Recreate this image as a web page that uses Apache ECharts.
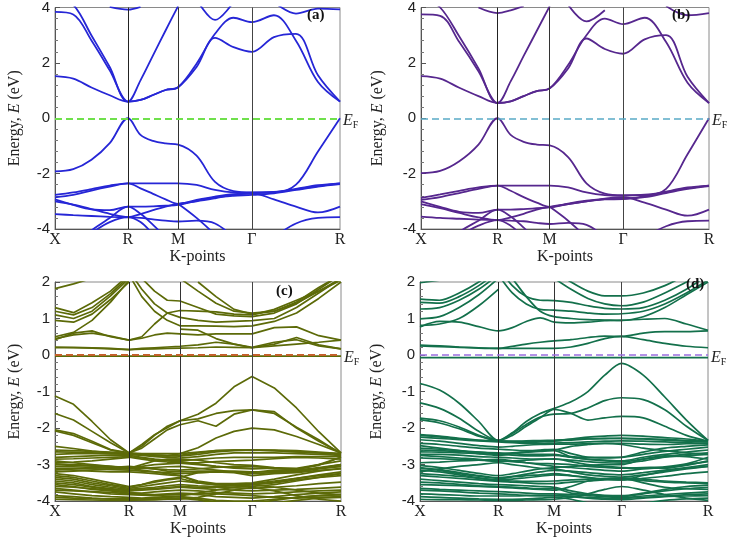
<!DOCTYPE html>
<html><head><meta charset="utf-8">
<script src="https://cdn.jsdelivr.net/npm/echarts@6/dist/echarts.min.js"></script>
<style>html,body{margin:0;padding:0;background:#fff}#c{width:729px;height:538px}</style>
</head><body><div id="c"></div>
<script>
const _ = null;
const kLabels = ['X','R','M','Γ','R'];
const ticksA = [0, 0.256, 0.432, 0.691, 1];
const ticksB = [0, 0.266, 0.447, 0.702, 1];
const ticksC = [0, 0.259, 0.437, 0.689, 1];
const ticksD = [0, 0.272, 0.466, 0.700, 1];

// Panel (a)
const condA = [
 [1.52,1.43,1.11,0.83,0.6, 0.66,0.84,1.02,1.12, 1.85,2.9,2.57,2.4, 2.93,3.05,1.55,0.6],
 [4.4,4.1,2.99,1.85,0.6, 0.66,0.84,1.02,1.12, 1.97,3.05,3.63,3.47, 3.72,2.8,1.31,0.6],
 [3.84,3.75,2.81,1.73,0.6, 1.37,2.27,3.17,4.05, _,_,_,_, _,_,_,_],
 [_,_,_,4.02,3.92, 4.02,_,_,_, _,_,_,_, _,_,_,_],
 [_,_,_,_,_, _,_,_,_, 4.3,3.55,4.2,_, _,_,_,_],
 [_,_,_,_,_, _,_,_,_, _,_,_,_, 4.2,3.78,3.96,3.93]
];
const valA = [
 [-1.92,-1.84,-1.5,-0.9,0, -0.6,-0.82,-0.91,-0.95, -1.35,-2.3,-2.63,-2.68, -2.68,-2.4,-1.2,0],
 [-2.77,-2.68,-2.56,-2.43,-2.35, -2.35,-2.35,-2.35,-2.35, -2.41,-2.59,-2.68,-2.69, -2.66,-2.57,-2.45,-2.35],
 [-2.86,-2.77,-2.61,-2.47,-2.35, -2.53,-2.73,-2.93,-3.09, -2.95,-2.83,-2.74,-2.71, -2.93,-3.19,-3.4,-3.19],
 [-2.93,-3.13,-3.29,-3.32,-3.19, -3.19,-3.18,-3.16,-3.13, -2.98,-2.86,-2.8,-2.77, -2.71,-2.59,-2.47,-2.38],
 [-3.0,-3.12,-3.28,-3.45,-3.57, -3.46,-3.32,-3.19,-3.09, -3.0,-2.89,-2.77,-2.71, -2.67,-2.55,-2.42,-2.35],
 [-3.46,-3.5,-3.53,-3.56,-3.58, -3.6,-3.65,-3.7,-3.73, -3.7,-3.8,-4.3,_, _,_,_,_],
 [_,-4.5,-4.05,-3.6,-3.19, -3.45,-3.85,-4.3,_, _,_,_,_, _,_,_,_],
 [_,_,-4.15,-3.75,-3.57, -3.75,-4.2,_,_, _,_,_,_, _,_,_,_],
 [_,_,_,_,_, _,_,_,-3.09, -3.6,-4.2,_,_, _,_,_,_],
 [_,_,_,_,_, _,_,_,_, _,_,_,_, -4.3,-3.8,-3.6,-3.57]
];

// Panel (b)
const condB = [
 [1.52,1.43,1.1,0.8,0.55, 0.61,0.8,0.98,1.08, 1.8,2.88,2.5,2.33, 2.85,3.0,1.5,0.55],
 [4.4,4.0,2.95,1.8,0.55, 0.61,0.8,0.98,1.08, 1.92,3.0,3.6,3.4, 3.63,2.75,1.28,0.55],
 [3.75,3.7,2.75,1.7,0.55, 1.33,2.25,3.15,4.05, _,_,_,_, _,_,_,_],
 [_,_,_,4.0,3.8, 3.9,4.05,_,_, _,_,_,_, _,_,_,_],
 [_,_,_,_,_, _,_,_,_, 4.1,3.5,3.9,_, _,_,_,_],
 [_,_,_,_,_, _,_,_,_, _,_,_,_, _,4.05,3.72,3.8]
];
const valB = [
 [-1.98,-1.9,-1.55,-0.95,0, -0.6,-0.85,-0.95,-0.98, -1.4,-2.35,-2.72,-2.78, -2.78,-2.55,-1.3,0],
 [-2.88,-2.75,-2.62,-2.5,-2.43, -2.43,-2.43,-2.43,-2.43, -2.5,-2.68,-2.78,-2.8, -2.76,-2.66,-2.53,-2.43],
 [-2.95,-2.85,-2.7,-2.55,-2.43, -2.62,-2.85,-3.05,-3.2, -3.08,-2.98,-2.9,-2.85, -3.05,-3.3,-3.52,-3.3],
 [-3.0,-3.2,-3.38,-3.42,-3.3, -3.3,-3.28,-3.25,-3.22, -3.1,-3.0,-2.93,-2.92, -2.85,-2.7,-2.55,-2.45],
 [-3.1,-3.25,-3.42,-3.58,-3.68, -3.58,-3.45,-3.3,-3.2, -3.1,-3.0,-2.92,-2.9, -2.82,-2.65,-2.5,-2.43],
 [-3.55,-3.6,-3.63,-3.66,-3.68, -3.7,-3.72,-3.78,-3.82, -3.78,-3.85,-4.3,_, _,_,_,_],
 [_,-4.6,-4.1,-3.7,-3.3, -3.55,-3.95,-4.4,_, _,_,_,_, _,_,_,_],
 [_,_,-4.25,-3.88,-3.68, -3.88,-4.3,_,_, _,_,_,_, _,_,_,_],
 [_,_,_,_,_, _,_,_,-3.2, -3.7,-4.3,_,_, _,_,_,_],
 [_,_,_,_,_, _,_,_,_, _,_,_,_, -4.3,-3.9,-3.72,-3.7]
];

// Panel (c)
const condC = [
 [-0.03,-0.03,-0.03,-0.03,-0.03, -0.03,-0.03,-0.03,-0.03, -0.03,-0.03,-0.03,-0.03, -0.03,-0.03,-0.03,-0.03],
 [0.2,0.2,0.19,0.17,0.15, 0.16,0.17,0.18,0.19, 0.2,0.22,0.21,0.2, 0.3,0.48,0.28,0.17],
 [0.22,0.21,0.2,0.18,0.15, 0.18,0.2,0.22,0.24, 0.28,0.35,0.3,0.21, 0.35,0.42,0.25,0.17],
 [0.42,0.6,0.66,0.5,0.41, 0.5,0.85,1.15,1.22, 1.2,1.18,1.12,1.1, 1.25,1.5,1.75,2.05],
 [0.45,0.55,0.6,0.52,0.41, 0.46,0.55,0.6,0.58, 0.55,0.58,0.58,0.58, 0.75,0.77,0.53,0.41],
 [0.5,0.62,0.95,1.45,2.05, _,_,_,_, _,_,_,_, _,_,_,_],
 [0.95,0.9,1.12,1.52,2.0, _,_,_,_, _,_,_,_, _,_,_,_],
 [1.1,1.0,1.2,1.62,2.1, _,_,_,_, _,_,_,_, _,_,_,_],
 [1.2,1.1,1.3,1.68,2.15, _,_,_,_, _,_,_,_, _,_,_,_],
 [1.3,1.16,1.43,1.75,2.2, _,_,_,_, _,_,_,_, _,_,_,_],
 [1.82,1.95,2.1,_,_, _,_,_,_, _,_,_,_, _,_,_,_],
 [_,_,_,_,2.2, 1.6,1.2,0.95,0.8, 0.8,0.79,0.78,0.8, 0.92,1.15,1.55,2.0],
 [_,_,_,_,2.3, 1.8,1.4,1.15,1.03, 0.95,0.9,0.92,0.94, 1.0,1.3,1.7,2.1],
 [_,_,_,_,_, 2.1,1.75,1.5,1.48, 1.3,1.12,1.07,1.05, 1.15,1.4,1.8,2.2],
 [_,_,_,_,_, _,_,_,2.1, 1.75,1.42,1.2,1.15, 1.2,1.42,1.75,2.1],
 [_,_,_,_,_, _,_,_,_, 2.0,1.6,1.25,1.12, 1.2,1.45,1.85,2.2],
 [_,_,_,_,_, _,_,_,0.71, 0.68,0.45,0.3,0.2, 0.25,0.3,0.35,0.41]
];
const valC = [
 [-1.12,-1.35,-1.82,-2.32,-2.68, -2.45,-2.18,-1.99,-1.8, -1.62,-1.32,-0.87,-0.59, -0.9,-1.45,-2.1,-2.68],
 [-1.6,-1.78,-2.09,-2.4,-2.68, -2.5,-2.2,-1.95,-1.8, -1.75,-1.6,-1.52,-1.5, -1.55,-2.0,-2.36,-2.68],
 [-2.05,-2.15,-2.36,-2.59,-2.68, -2.55,-2.3,-2.05,-1.91, -1.8,-1.95,-1.62,-1.5, -1.6,-1.98,-2.32,-2.7],
 [-2.08,-2.2,-2.4,-2.6,-2.7, -2.72,-2.75,-2.76,-2.7, -2.54,-2.27,-2.09,-2.0, -2.05,-2.23,-2.45,-2.68],
 [-2.5,-2.56,-2.63,-2.68,-2.72, -2.73,-2.74,-2.75,-2.75, -2.68,-2.62,-2.6,-2.6, -2.62,-2.65,-2.68,-2.72]
];
const denseC = [
 [-2.65,-2.66,-2.68,-2.7,-2.7, -2.72,-2.74,-2.76,-2.77, -2.72,-2.65,-2.62,-2.6, -2.62,-2.65,-2.68,-2.7],
 [-2.72,-2.7,-2.7,-2.7,-2.72, -2.75,-2.78,-2.8,-2.82, -2.78,-2.72,-2.68,-2.67, -2.68,-2.7,-2.72,-2.75],
 [-2.8,-2.78,-2.76,-2.74,-2.75, -2.8,-2.85,-2.88,-2.9, -2.86,-2.82,-2.8,-2.8, -2.8,-2.78,-2.78,-2.78],
 [-2.95,-2.93,-2.9,-2.85,-2.8, -2.85,-2.9,-2.93,-2.95, -2.95,-2.92,-2.9,-2.88, -2.84,-2.8,-2.82,-2.85],
 [-3.0,-3.02,-3.04,-3.06,-3.08, -3.05,-3.0,-2.98,-2.96, -3.0,-3.05,-3.08,-3.1, -3.1,-3.1,-3.0,-2.9],
 [-3.05,-3.06,-3.08,-3.1,-3.12, -3.1,-3.08,-3.06,-3.05, -3.1,-3.15,-3.2,-3.22, -3.15,-3.16,-3.08,-3.0],
 [-3.1,-3.1,-3.12,-3.14,-3.15, -3.18,-3.2,-3.22,-3.25, -3.22,-3.2,-3.18,-3.2, -3.2,-3.2,-3.12,-3.05],
 [-3.2,-3.18,-3.15,-3.12,-3.1, -3.15,-3.2,-3.25,-3.3, -3.45,-3.52,-3.52,-3.5, -3.4,-3.28,-3.18,-3.1],
 [-3.3,-3.35,-3.45,-3.55,-3.62, -3.55,-3.45,-3.4,-3.35, -3.22,-3.2,-3.22,-3.3, -3.25,-3.22,-3.16,-3.12],
 [-3.35,-3.4,-3.5,-3.58,-3.65, -3.6,-3.55,-3.5,-3.45, -3.5,-3.55,-3.58,-3.55, -3.48,-3.38,-3.28,-3.2],
 [-3.4,-3.45,-3.55,-3.62,-3.68, -3.65,-3.62,-3.58,-3.55, -3.58,-3.6,-3.62,-3.6, -3.55,-3.45,-3.35,-3.25],
 [-3.45,-3.5,-3.6,-3.66,-3.72, -3.7,-3.68,-3.65,-3.62, -3.65,-3.68,-3.7,-3.72, -3.7,-3.68,-3.65,-3.62],
 [-3.55,-3.6,-3.68,-3.72,-3.78, -3.78,-3.75,-3.72,-3.7, -3.72,-3.76,-3.78,-3.8, -3.78,-3.75,-3.72,-3.7],
 [-3.65,-3.7,-3.75,-3.8,-3.82, -3.84,-3.85,-3.82,-3.8, -3.82,-3.88,-3.9,-3.92, -3.88,-3.82,-3.78,-3.75],
 [-3.75,-3.8,-3.85,-3.88,-3.9, -3.92,-3.9,-3.88,-3.88, -3.92,-3.98,-4.0,-4.0, -3.95,-3.9,-3.85,-3.82],
 [-3.85,-3.88,-3.92,-3.95,-3.96, -3.97,-3.96,-3.94,-3.92, -3.97,-4.05,-4.1,-4.1, -4.05,-3.98,-3.92,-3.9],
 [-3.95,-3.96,-3.97,-3.98,-3.98, -3.97,-3.96,-3.95,-3.95, -3.9,-3.8,-3.7,-3.62, -3.72,-3.85,-3.95,-4.0],
 [-2.9,-2.95,-3.0,-3.05,-3.1, -3.0,-2.9,-2.85,-2.85, -2.88,-2.95,-3.0,-3.02, -3.08,-3.12,-3.02,-2.8],
 [-3.15,-3.12,-3.1,-3.08,-3.05, -3.08,-3.12,-3.18,-3.2, -3.18,-3.18,-3.2,-3.25, -3.22,-3.18,-3.1,-3.0],
 [-2.6,-2.62,-2.64,-2.66,-2.68, -2.7,-2.7,-2.7,-2.7, -2.66,-2.62,-2.6,-2.6, -2.6,-2.62,-2.66,-2.7],
 [-2.85,-2.84,-2.82,-2.8,-2.78, -2.82,-2.86,-2.9,-2.92, -2.98,-3.05,-3.1,-3.12, -3.1,-3.14,-3.0,-2.8],
 [-2.98,-3.0,-3.02,-3.05,-3.08, -3.1,-3.12,-3.14,-3.15, -3.12,-3.08,-3.05,-3.05, -3.1,-3.15,-3.1,-3.05],
 [-3.12,-3.15,-3.18,-3.2,-3.2, -3.22,-3.25,-3.28,-3.3, -3.48,-3.55,-3.55,-3.52, -3.45,-3.38,-3.3,-3.25],
 [-3.25,-3.3,-3.4,-3.5,-3.6, -3.55,-3.48,-3.42,-3.38, -3.5,-3.55,-3.56,-3.55, -3.5,-3.42,-3.35,-3.3],
 [-3.5,-3.55,-3.62,-3.68,-3.7, -3.68,-3.66,-3.62,-3.6, -3.62,-3.62,-3.64,-3.65, -3.62,-3.58,-3.52,-3.48],
 [-3.6,-3.62,-3.66,-3.7,-3.75, -3.8,-3.82,-3.8,-3.78, -3.8,-3.8,-3.82,-3.85, -3.9,-3.92,-3.9,-3.88],
 [-3.7,-3.72,-3.74,-3.76,-3.8, -3.82,-3.84,-3.86,-3.86, -3.78,-3.7,-3.62,-3.55, -3.62,-3.7,-3.78,-3.82],
 [-3.9,-3.92,-3.93,-3.94,-3.94, -3.94,-3.93,-3.9,-3.88, -3.95,-4.02,-4.06,-4.06, -3.98,-3.9,-3.85,-3.82]
];

// Panel (d)
const condD = [
 [-0.07,-0.07,-0.07,-0.07,-0.07, -0.07,-0.07,-0.07,-0.07, -0.07,-0.07,-0.07,-0.07, -0.07,-0.07,-0.07,-0.07],
 [0.25,0.23,0.21,0.19,0.18, 0.18,0.18,0.18,0.18, 0.22,0.32,0.45,0.51, 0.42,0.32,0.24,0.2],
 [0.27,0.25,0.22,0.2,0.18, 0.24,0.3,0.35,0.39, 0.42,0.48,0.52,0.51, 0.6,0.64,0.64,0.66],
 [0.77,0.92,0.9,0.78,0.66, 0.75,0.92,1.02,0.9, 0.88,0.9,0.94,0.95, 0.98,1.0,0.85,0.68],
 [0.81,0.85,1.0,1.35,1.8, _,_,_,_, _,_,_,_, _,_,_,_],
 [0.99,1.05,1.3,1.65,2.1, _,_,_,_, _,_,_,_, _,_,_,_],
 [1.26,1.3,1.5,1.8,2.2, _,_,_,_, _,_,_,_, _,_,_,_],
 [1.44,1.42,1.6,1.9,2.3, _,_,_,_, _,_,_,_, _,_,_,_],
 [1.53,1.5,1.7,2.0,2.4, _,_,_,_, _,_,_,_, _,_,_,_],
 [1.98,2.05,_,_,_, _,_,_,_, _,_,_,_, _,_,_,_],
 [_,_,_,_,2.2, 1.7,1.4,1.25,1.23, 1.2,1.15,1.12,1.13, 1.2,1.4,1.7,2.05],
 [_,_,_,_,2.4, 1.9,1.6,1.5,1.49, 1.44,1.35,1.28,1.26, 1.3,1.5,1.8,2.2],
 [_,_,_,_,2.6, 2.1,1.6,1.2,1.05, 1.0,0.97,0.96,0.95, 1.05,1.3,1.65,2.0],
 [_,_,_,_,_, _,_,_,2.1, 1.8,1.55,1.4,1.35, 1.45,1.7,2.0,2.3],
 [_,_,_,_,_, _,_,_,2.3, 2.0,1.75,1.62,1.62, 1.7,1.9,2.2,_]
];
const valD = [
 [-0.78,-0.96,-1.32,-1.82,-2.34, -2.13,-1.82,-1.6,-1.46, -1.28,-1.0,-0.55,-0.23, -0.55,-1.15,-1.78,-2.34],
 [-1.31,-1.46,-1.73,-2.09,-2.34, -2.15,-1.9,-1.7,-1.62, -1.6,-1.45,-1.25,-1.17, -1.22,-1.5,-1.95,-2.34],
 [-1.73,-1.8,-1.97,-2.2,-2.34, -2.2,-1.95,-1.72,-1.49, -1.6,-1.78,-1.72,-1.68, -1.72,-1.95,-2.2,-2.36],
 [-1.77,-1.86,-2.02,-2.22,-2.35, -2.38,-2.4,-2.38,-2.36, -2.3,-2.25,-2.22,-2.2, -2.22,-2.26,-2.3,-2.36]
];
const denseD = [
 [-2.18,-2.22,-2.28,-2.33,-2.36, -2.37,-2.37,-2.36,-2.35, -2.33,-2.3,-2.29,-2.28, -2.29,-2.31,-2.34,-2.37],
 [-2.25,-2.28,-2.32,-2.35,-2.38, -2.4,-2.42,-2.42,-2.41, -2.4,-2.38,-2.36,-2.35, -2.36,-2.38,-2.4,-2.42],
 [-2.32,-2.36,-2.42,-2.48,-2.52, -2.5,-2.47,-2.45,-2.44, -2.44,-2.43,-2.42,-2.42, -2.44,-2.45,-2.43,-2.42],
 [-2.42,-2.45,-2.5,-2.55,-2.58, -2.6,-2.62,-2.6,-2.58, -2.7,-2.8,-2.82,-2.8, -2.66,-2.55,-2.5,-2.46],
 [-2.55,-2.58,-2.62,-2.66,-2.7, -2.68,-2.65,-2.62,-2.6, -2.5,-2.45,-2.42,-2.45, -2.55,-2.62,-2.68,-2.72],
 [-2.65,-2.66,-2.68,-2.7,-2.72, -2.74,-2.76,-2.76,-2.75, -2.8,-2.86,-2.9,-2.92, -2.85,-2.78,-2.72,-2.68],
 [-2.72,-2.72,-2.74,-2.78,-2.8, -2.82,-2.84,-2.85,-2.85, -2.88,-2.92,-2.95,-2.96, -2.9,-2.8,-2.76,-2.72],
 [-2.82,-2.84,-2.86,-2.88,-2.9, -2.92,-2.95,-2.97,-2.98, -3.0,-3.05,-3.08,-3.1, -3.08,-3.06,-2.98,-2.8],
 [-2.95,-2.93,-2.9,-2.88,-2.86, -2.9,-2.95,-3.0,-3.05, -3.08,-3.12,-3.16,-3.18, -3.12,-3.08,-3.02,-2.9],
 [-3.02,-3.08,-3.16,-3.24,-3.3, -3.25,-3.18,-3.12,-3.08, -3.05,-3.02,-3.0,-3.0, -2.85,-2.76,-2.78,-2.85],
 [-3.08,-3.14,-3.22,-3.3,-3.36, -3.32,-3.26,-3.2,-3.16, -3.18,-3.22,-3.26,-3.28, -3.22,-3.15,-3.08,-3.0],
 [-3.15,-3.2,-3.28,-3.36,-3.42, -3.4,-3.36,-3.32,-3.28, -3.3,-3.35,-3.4,-3.42, -3.38,-3.32,-3.25,-3.2],
 [-3.3,-3.34,-3.38,-3.42,-3.46, -3.48,-3.5,-3.52,-3.52, -3.48,-3.45,-3.42,-3.4, -3.44,-3.48,-3.5,-3.52],
 [-3.4,-3.44,-3.48,-3.52,-3.55, -3.56,-3.58,-3.6,-3.62, -3.72,-3.8,-3.84,-3.85, -3.78,-3.68,-3.6,-3.56],
 [-3.55,-3.56,-3.58,-3.6,-3.62, -3.64,-3.66,-3.68,-3.7, -3.6,-3.45,-3.4,-3.38, -3.5,-3.62,-3.66,-3.68],
 [-3.65,-3.68,-3.7,-3.72,-3.74, -3.76,-3.78,-3.8,-3.8, -3.82,-3.85,-3.88,-3.9, -3.86,-3.82,-3.78,-3.75],
 [-3.8,-3.82,-3.84,-3.86,-3.86, -3.86,-3.85,-3.85,-3.85, -3.88,-3.92,-3.95,-3.96, -3.92,-3.88,-3.86,-3.85],
 [-3.88,-3.9,-3.92,-3.94,-3.95, -3.95,-3.94,-3.92,-3.9, -3.95,-4.05,-4.1,-4.1, -4.05,-3.98,-3.94,-3.92],
 [-2.48,-2.55,-2.62,-2.7,-2.75, -2.7,-2.66,-2.64,-2.62, -2.78,-2.8,-2.8,-2.8, -2.72,-2.64,-2.58,-2.52],
 [-3.2,-3.12,-3.05,-3.0,-2.95, -3.0,-3.05,-3.1,-3.12, -3.2,-3.28,-3.32,-3.34, -3.28,-3.2,-3.12,-3.05],
 [-2.2,-2.24,-2.3,-2.34,-2.36, -2.36,-2.35,-2.34,-2.33, -2.31,-2.29,-2.28,-2.28, -2.3,-2.33,-2.36,-2.38],
 [-2.6,-2.62,-2.64,-2.66,-2.68, -2.7,-2.72,-2.72,-2.72, -2.8,-2.85,-2.88,-2.9, -2.8,-2.72,-2.66,-2.6],
 [-2.75,-2.78,-2.82,-2.86,-2.92, -2.9,-2.88,-2.86,-2.84, -2.92,-3.0,-3.05,-3.08, -3.1,-3.1,-3.0,-2.92],
 [-3.1,-3.16,-3.25,-3.32,-3.38, -3.34,-3.3,-3.28,-3.25, -3.3,-3.36,-3.4,-3.42, -3.3,-3.18,-3.1,-3.05],
 [-3.25,-3.28,-3.32,-3.38,-3.44, -3.45,-3.46,-3.46,-3.45, -3.42,-3.4,-3.38,-3.36, -3.4,-3.45,-3.48,-3.5],
 [-3.48,-3.5,-3.54,-3.58,-3.6, -3.62,-3.64,-3.66,-3.66, -3.78,-3.82,-3.86,-3.88, -3.8,-3.72,-3.66,-3.62],
 [-3.7,-3.72,-3.75,-3.78,-3.8, -3.82,-3.84,-3.85,-3.85, -3.86,-3.9,-3.92,-3.93, -3.9,-3.86,-3.82,-3.8],
 [-3.95,-3.96,-3.96,-3.97,-3.98, -3.98,-3.97,-3.96,-3.95, -3.9,-3.8,-3.68,-3.6, -3.7,-3.82,-3.92,-3.98]
];

// k-path sampling: 4 sub-intervals per segment between the high-symmetry points
function kGrid(t){
  const out=[];
  for(let s=0;s<4;s++){ for(let j=0;j<4;j++){ out.push(t[s]+(t[s+1]-t[s])*j/4); } }
  out.push(t[4]);
  return out;
}

const panels = [
 {tag:'(a)', ticks:ticksA, bands:condA.concat(valA), min:-4, max:4, interval:2, color:'#2626d6', lw:1.8, smooth:0.35,
  fermi:{color:'#6fe04c', width:2.2}, grid:{left:55, top:7, width:285, height:222}, nameGap:32, tagPos:[307,8]},
 {tag:'(b)', ticks:ticksB, bands:condB.concat(valB), min:-4, max:4, interval:2, color:'#56278e', lw:1.8, smooth:0.35,
  fermi:{color:'#5aaac6', width:1.6}, grid:{left:421, top:6, width:288, height:223}, nameGap:35, tagPos:[672,8]},
 {tag:'(c)', ticks:ticksC, bands:condC.concat(valC, denseC), min:-4, max:2, interval:1, color:'#5c6a08', lw:1.7, smooth:false,
  fermi:{color:'#c4602c', width:2.2}, grid:{left:55, top:282, width:286, height:222}, nameGap:32, tagPos:[276,284]},
 {tag:'(d)', ticks:ticksD, bands:condD.concat(valD, denseD), min:-4, max:2, interval:1, color:'#13704b', lw:1.7, smooth:0.3,
  fermi:{color:'#9c6ee0', width:1.6}, grid:{left:420, top:282, width:288, height:222}, nameGap:35, tagPos:[686,277]}
];

const grids=[], xAxes=[], yAxes=[], series=[], titles=[];
const serif = 'Liberation Serif';
panels.forEach((p, idx) => {
  const ks = kGrid(p.ticks);
  grids.push(Object.assign({show:true, borderColor:'#8a8a8a', borderWidth:1, containLabel:false}, p.grid));
  xAxes.push({gridIndex:idx, type:'value', min:0, max:1,
    axisLine:{show:true, onZero:false, lineStyle:{color:'#555'}},
    axisTick:{show:false}, splitLine:{show:false},
    axisLabel:{customValues:p.ticks, formatter:(v,i)=>{const k=p.ticks.findIndex(t=>Math.abs(t-v)<1e-9); return kLabels[k<0?i:k];},
      fontFamily:serif, fontSize:16, color:'#222', margin:3},
    name:'K-points', nameLocation:'middle', nameGap:19,
    nameTextStyle:{fontFamily:serif, fontSize:16, color:'#222'}});
  yAxes.push({gridIndex:idx, type:'value', min:p.min, max:p.max, interval:p.interval,
    axisLine:{show:true, lineStyle:{color:'#555'}},
    axisTick:{show:true, inside:true, length:5, lineStyle:{color:'#555'}},
    minorTick:{show:true, splitNumber:5, length:3, lineStyle:{color:'#777'}},
    splitLine:{show:false}, minorSplitLine:{show:false},
    axisLabel:{fontFamily:'Liberation Sans', fontSize:15, color:'#222', margin:5},
    name:'{t|Energy, }{i|E}{t| (eV)}', nameLocation:'middle', nameGap:p.nameGap, nameRotate:90,
    nameTextStyle:{rich:{t:{fontFamily:serif, fontSize:16, color:'#222'}, i:{fontFamily:serif, fontStyle:'italic', fontSize:16, color:'#222'}}}});
  p.bands.forEach((b, j) => {
    const s = {type:'line', xAxisIndex:idx, yAxisIndex:idx,
      data: b.map((v,i)=>[ks[i], v==null?'-':v]),
      smooth:p.smooth, symbol:'none', showSymbol:false, connectNulls:false, clip:true,
      lineStyle:{color:p.color, width:p.lw}, silent:true, animation:false, z:3};
    if (j===0) {
      s.markLine = {silent:true, symbol:['none','none'], animation:false, precision:4,
        data:[
          {xAxis:p.ticks[1], lineStyle:{color:'#222', width:1, type:'solid'}, label:{show:false}},
          {xAxis:p.ticks[2], lineStyle:{color:'#333', width:1, type:'solid'}, label:{show:false}},
          {xAxis:p.ticks[3], lineStyle:{color:'#444', width:1, type:'solid'}, label:{show:false}},
          {yAxis:0, lineStyle:{color:p.fermi.color, width:p.fermi.width, type:[7,4]},
           label:{show:true, position:'end', distance:3, formatter:'{i|E}{s|F}',
             rich:{i:{fontFamily:serif, fontStyle:'italic', fontSize:16, color:'#222', padding:[6,0,0,0]},
                   s:{fontFamily:serif, fontSize:10, color:'#222', padding:[15,0,0,0]}}}}
        ]};
    }
    series.push(s);
  });
  titles.push({text:p.tag, left:p.tagPos[0], top:p.tagPos[1], padding:0,
    textStyle:{fontFamily:serif, fontWeight:'bold', fontSize:15, color:'#111'}});
});

const chart = echarts.init(document.getElementById('c'), null, {renderer:'canvas'});
chart.setOption({backgroundColor:'#fff', animation:false, title:titles, grid:grids, xAxis:xAxes, yAxis:yAxes, series:series});
</script></body></html>
